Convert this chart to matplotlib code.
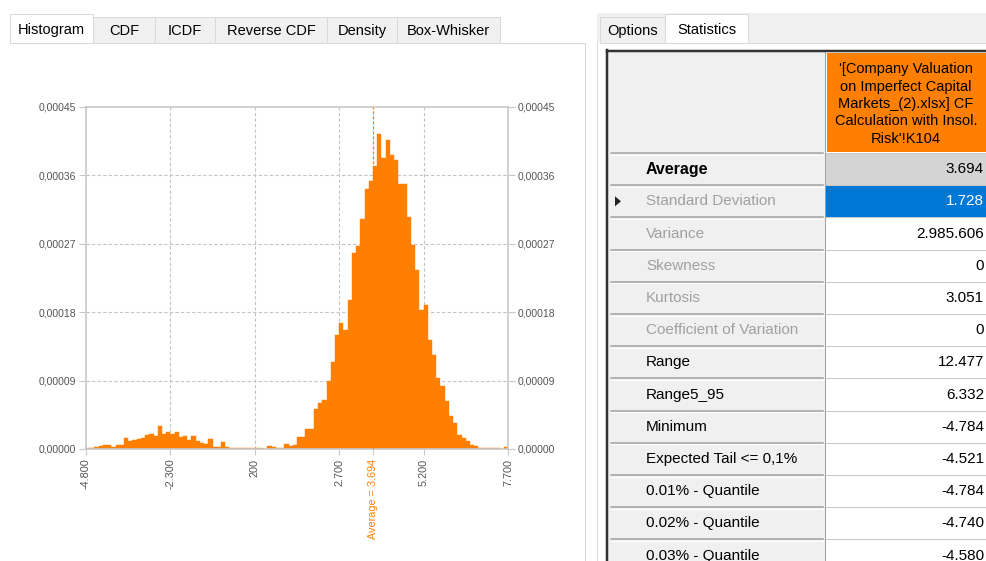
import numpy as np
import matplotlib
matplotlib.use("Agg")
import matplotlib.pyplot as plt
from matplotlib.patches import Rectangle, Polygon

plt.rcParams["font.family"] = ["Liberation Sans", "DejaVu Sans"]

W, H = 986, 561
ORANGE = "#ff8000"

# --- histogram data: 100 bins of width 125 starting at -4.800, density in units of 1e-5
BIN_START, BIN_WIDTH = -4800, 125
density_e5 = [
    0.15, 0.15, 0.25, 0.45, 0.5, 0.5, 0.3, 0.5, 0.55, 1.5,
    1.0, 1.2, 1.3, 1.5, 1.9, 2.0, 1.67, 3.0, 2.0, 2.2,
    2.0, 2.2, 1.55, 1.65, 1.25, 1.65, 1.0, 0.85, 0.7, 1.3,
    0.3, 0.3, 0.9, 0.3, 0.12, 0.12, 0.12, 0.12, 0.12, 0.12,
    0.12, 0.12, 0.0, 0.35, 0.25, 0.13, 0.15, 0.6, 0.35, 0.55,
    1.6, 1.6, 2.65, 2.65, 5.25, 6.0, 6.4, 8.9, 11.5, 15.0,
    16.6, 15.7, 19.6, 25.8, 26.7, 30.3, 34.2, 35.2, 37.3, 41.4,
    38.3, 40.6, 38.7, 38.0, 34.9, 34.9, 30.5, 26.9, 23.6, 18.3,
    18.9, 14.3, 12.4, 9.3, 8.3, 6.3, 4.4, 3.4, 1.9, 1.5,
    1.0, 0.55, 0.35, 0.13, 0.13, 0.13, 0.13, 0.13, 0.0, 0.25,
]
AVERAGE = 3694
AVERAGE_LABEL = "Average = 3.694"
x_ticks = [-4800, -2300, 200, 2700, 5200, 7700]
x_tick_labels = ["-4.800", "-2.300", "200", "2.700", "5.200", "7.700"]
y_ticks = [0, 0.00009, 0.00018, 0.00027, 0.00036, 0.00045]
y_tick_labels = ["0,00000", "0,00009", "0,00018", "0,00027", "0,00036", "0,00045"]

# --- UI text
left_tabs = ["Histogram", "CDF", "ICDF", "Reverse CDF", "Density", "Box-Whisker"]
right_tabs = ["Options", "Statistics"]
header_text = ("'[Company Valuation\non Imperfect Capital\nMarkets_(2).xlsx] CF\n"
               "Calculation with Insol.\nRisk'!K104")
stat_labels = ["Average", "Standard Deviation", "Variance", "Skewness", "Kurtosis",
               "Coefficient of Variation", "Range", "Range5_95", "Minimum",
               "Expected Tail <= 0,1%", "0.01% - Quantile", "0.02% - Quantile",
               "0.03% - Quantile"]
stat_values = ["3.694", "1.728", "2.985.606", "0", "3.051", "0", "12.477", "6.332",
               "-4.784", "-4.521", "-4.784", "-4.740", "-4.580"]
grey_rows = {1, 2, 3, 4, 5}

fig = plt.figure(figsize=(W / 100, H / 100), dpi=100)
bg = fig.add_axes([0, 0, 1, 1])
bg.set_xlim(0, W); bg.set_ylim(H, 0); bg.axis("off")

px = 0.72  # one pixel in points


def tab(x0, x1, label, selected):
    y0 = 14 if selected else 17
    bg.add_patch(Rectangle((x0, y0), x1 - x0, 43 - y0, facecolor="white" if selected else "#f0f0f0",
                           edgecolor="#d9d9d9", lw=px, zorder=2 if selected else 1))
    bg.text((x0 + x1) / 2, 29.5 if selected else 31, label, ha="center", va="center",
            fontsize=10.5, color="black", zorder=3)


# left panel
bg.plot([500, 585, 585], [43, 43, H], color="#d9d9d9", lw=px)
for lab, x0, x1 in zip(left_tabs, [10, 93, 155, 215, 327, 397], [93, 155, 215, 327, 397, 500]):
    tab(x0, x1, lab, lab == "Histogram")

# right panel
bg.add_patch(Rectangle((597, 13), W - 597, 30, facecolor="#f0f0f0", edgecolor="none"))
bg.plot([597, 597], [43, H], color="#d9d9d9", lw=px)
bg.plot([748, W], [43, 43], color="#d9d9d9", lw=px)
for lab, x0, x1 in zip(right_tabs, [600, 665], [665, 748]):
    tab(x0, x1, lab, lab == "Statistics")

# statistics table
ROW0, ROW_H = 153, 32.2
bg.add_patch(Rectangle((608, 52), 217, 100, facecolor="#f0f0f0", edgecolor="none"))
bg.add_patch(Rectangle((826.5, 53), W - 826.5, 99, facecolor=ORANGE, edgecolor="none"))
bg.text(906, 104, header_text, ha="center", va="center", fontsize=10.5, linespacing=1.3)
for i, (lab, val) in enumerate(zip(stat_labels, stat_values)):
    top = ROW0 + i * ROW_H
    cy = top + ROW_H / 2
    bg.add_patch(Rectangle((608, top), 217, ROW_H, facecolor="#f0f0f0", edgecolor="none"))
    vfill = "#d4d4d4" if i == 0 else ("#0078d7" if i == 1 else "white")
    bg.add_patch(Rectangle((825.5, top), W - 825.5, ROW_H, facecolor=vfill, edgecolor="none"))
    bg.plot([611, 823], [top, top], color="#a0a0a0", lw=px * 1.5)
    bg.plot([611, 823], [top + 1.5, top + 1.5], color="white", lw=px)
    bg.plot([826, W], [top, top], color="#c8c8c8", lw=px)
    if i == 0:
        bg.text(646, cy, lab, ha="left", va="center", fontsize=11.5, weight="bold")
    else:
        bg.text(646, cy, lab, ha="left", va="center", fontsize=11,
                color="#a0a0a0" if i in grey_rows else "black")
    bg.text(984, cy, val, ha="right", va="center", fontsize=11,
            color="white" if i == 1 else "black")
    if i == 1:
        bg.add_patch(Polygon([[615, cy - 5], [615, cy + 5], [621, cy]], closed=True,
                             facecolor="#222222", edgecolor="none"))
bg.plot([825, 825], [52, H], color="#a0a0a0", lw=px)
bg.plot([606.5, 606.5], [50, H], color="#333333", lw=2.5 * px)
bg.plot([606.5, W], [51, 51], color="#333333", lw=2.5 * px)

# histogram
ax = fig.add_axes([86 / W, (H - 449) / H, 422 / W, 342 / H])
ax.set_facecolor("white")
lefts = BIN_START + BIN_WIDTH * np.arange(len(density_e5))
ax.bar(lefts, np.array(density_e5) * 1e-5, width=BIN_WIDTH, align="edge",
       color=ORANGE, edgecolor=ORANGE, lw=0.3, zorder=2)
for x in x_ticks[1:-1]:
    ax.axvline(x, color="#c4c4c4", ls=(0, (3, 2)), lw=0.8, zorder=0)
for y in y_ticks[1:-1]:
    ax.axhline(y, color="#c4c4c4", ls=(0, (3, 2)), lw=0.8, zorder=0)
ax.axvline(AVERAGE, color=ORANGE, ls=(0, (2.5, 1.5)), lw=0.9, zorder=3)

ax.set_xlim(x_ticks[0], x_ticks[-1])
ax.set_ylim(y_ticks[0], y_ticks[-1])
ax.set_xticks(x_ticks + [AVERAGE])
ax.set_xticklabels(x_tick_labels + [AVERAGE_LABEL], rotation=90, va="top", ha="center")
ax.set_yticks(y_ticks)
ax.set_yticklabels(y_tick_labels)
ax.tick_params(axis="x", length=4, color="#c8c8c8", labelsize=7.8, labelcolor="#555555", pad=3)
ax.get_xticklabels()[-1].set_color(ORANGE)
ax.tick_params(axis="y", left=True, right=True, labelleft=True, labelright=True,
               length=5, color="#c8c8c8", labelsize=7.5, labelcolor="#555555", pad=2)
for s in ax.spines.values():
    s.set_color("#c8c8c8")
    s.set_linewidth(1.2)

fig.savefig("out.png", dpi=100, facecolor="white")
